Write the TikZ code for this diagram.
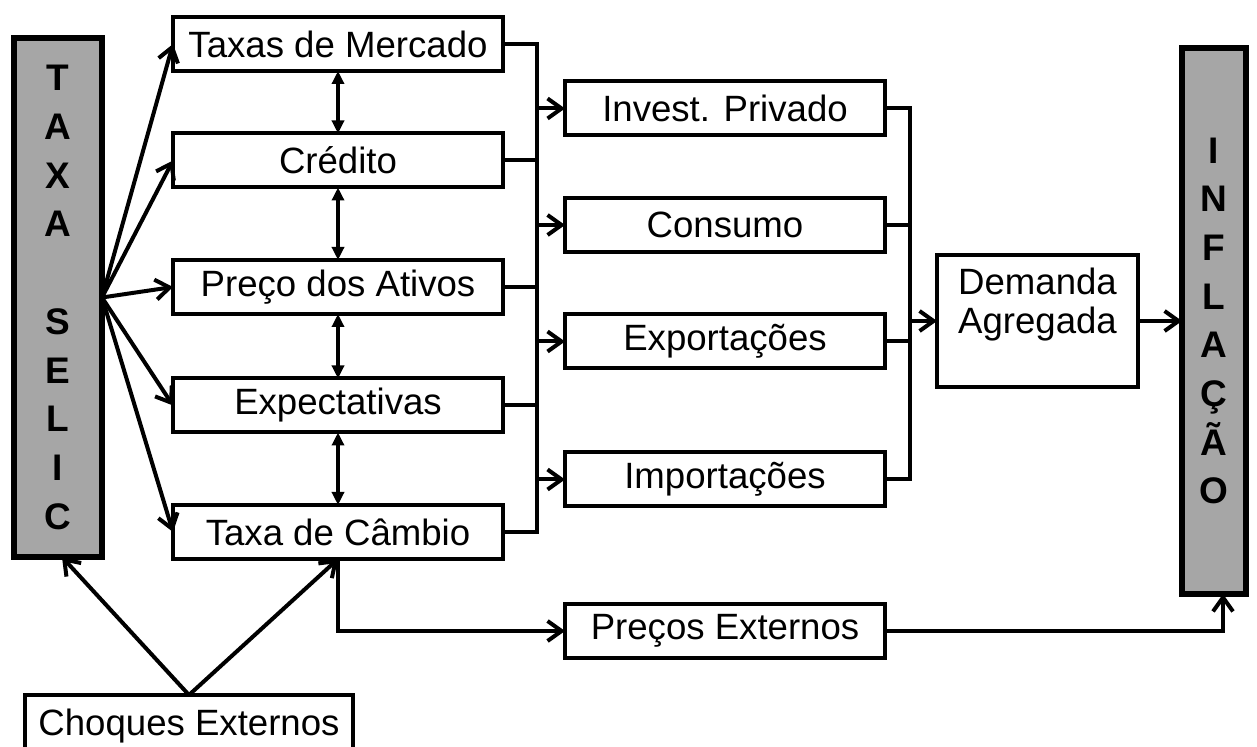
\documentclass[tikz,border=0pt]{standalone}
\usepackage{fontspec}
\setmainfont{Liberation Sans}
\usetikzlibrary{arrows.meta}
\definecolor{boxgray}{RGB}{166,166,166}
\begin{document}
\begin{tikzpicture}[x=0.5pt,y=-0.5pt,
  box/.style={draw,line width=2pt,fill=white,inner sep=0pt,outer sep=0pt,minimum height=27pt,font=\fontsize{18.3}{19.5}\selectfont},
  colA/.style={box,minimum width=165pt},
  colB/.style={box,minimum width=160pt},
  bigbox/.style={draw,line width=2.6pt,fill=boxgray,inner sep=0pt,outer sep=0pt,align=center,font=\bfseries\fontsize{18.5}{24.35}\selectfont},
  conn/.style={line width=2pt},
  arr/.style={conn,-{Straight Barb[length=7pt,width=10pt]}},
  dbl/.style={conn,{Triangle[length=6.5pt,width=6pt]}-{Triangle[length=6.5pt,width=6pt]}}]
\fill[white] (0,0) rectangle (1257,747);
\useasboundingbox (0,0) rectangle (1257,747);

% big gray boxes
\node[bigbox,minimum width=44pt,minimum height=259.5pt] (selic) at (58,297.5) {T\\A\\X\\A\\\mbox{}\\S\\E\\L\\I\\C};
\node[bigbox,minimum width=32pt,minimum height=273pt] (infl) at (1214,321) {I\\N\\F\\L\\A\\Ç\\Ã\\O};

% first column
\node[colA] (tm) at (338,44) {Taxas de Mercado};
\node[colA] (cred) at (338,160.5) {Crédito};
\node[colA] (preco) at (338,287) {Preço dos Ativos};
\node[colA] (expt) at (338,405.5) {Expectativas};
\node[colA] (camb) at (338,532) {Taxa de Câmbio};

% second column
\node[colB] (inv) at (725,108.5) {Invest. Privado};
\node[colB] (cons) at (725,225) {Consumo};
\node[colB] (expo) at (725,341.5) {Exportações};
\node[colB] (imp) at (725,479.5) {Importações};
\node[colB] (pext) at (725,631) {Preços Externos};

\node[box,minimum width=100.5pt,minimum height=66pt,align=center] (dem) at (1037.5,321) {Demanda\\Agregada\rule[-20pt]{0pt}{20pt}};

\node[box,minimum width=164pt,minimum height=31pt] (choq) at (189,726) {Choques Externos};

% coordinates for buses
\coordinate (busL) at (537,532);
\coordinate (busR) at (910,479.5);

% Selic arrows
\foreach \n in {tm,cred,preco,expt,camb}
  \draw[arr] (selic.east) -- (\n.west);

% double arrows
\draw[dbl] (tm.south) -- (cred.north);
\draw[dbl] (cred.south) -- (preco.north);
\draw[dbl] (preco.south) -- (expt.north);
\draw[dbl] (expt.south) -- (camb.north);

% left bus
\draw[conn] (tm.east) -| (busL) -- (camb.east);
\foreach \n in {cred,preco,expt}
  \draw[conn] (\n.east) -- (\n.east -| busL);
\foreach \n in {inv,cons,expo,imp}
  \draw[arr] (\n.west -| busL) -- (\n.west);

% right bus
\draw[conn] (inv.east) -| (busR) -- (imp.east);
\foreach \n in {cons,expo}
  \draw[conn] (\n.east) -- (\n.east -| busR);
\draw[arr] (dem.west -| busR) -- (dem.west);
\draw[arr] (dem.east) -- (dem.east -| infl.west);

% external shocks
\draw[arr] (choq.north) -- ([xshift=2pt]selic.south);
\draw[arr] (choq.north) -- (camb.south);
\draw[arr] (camb.south) |- (pext.west);
\draw[arr] (pext.east) -| ([xshift=4.5pt]infl.south);
\end{tikzpicture}
\end{document}
